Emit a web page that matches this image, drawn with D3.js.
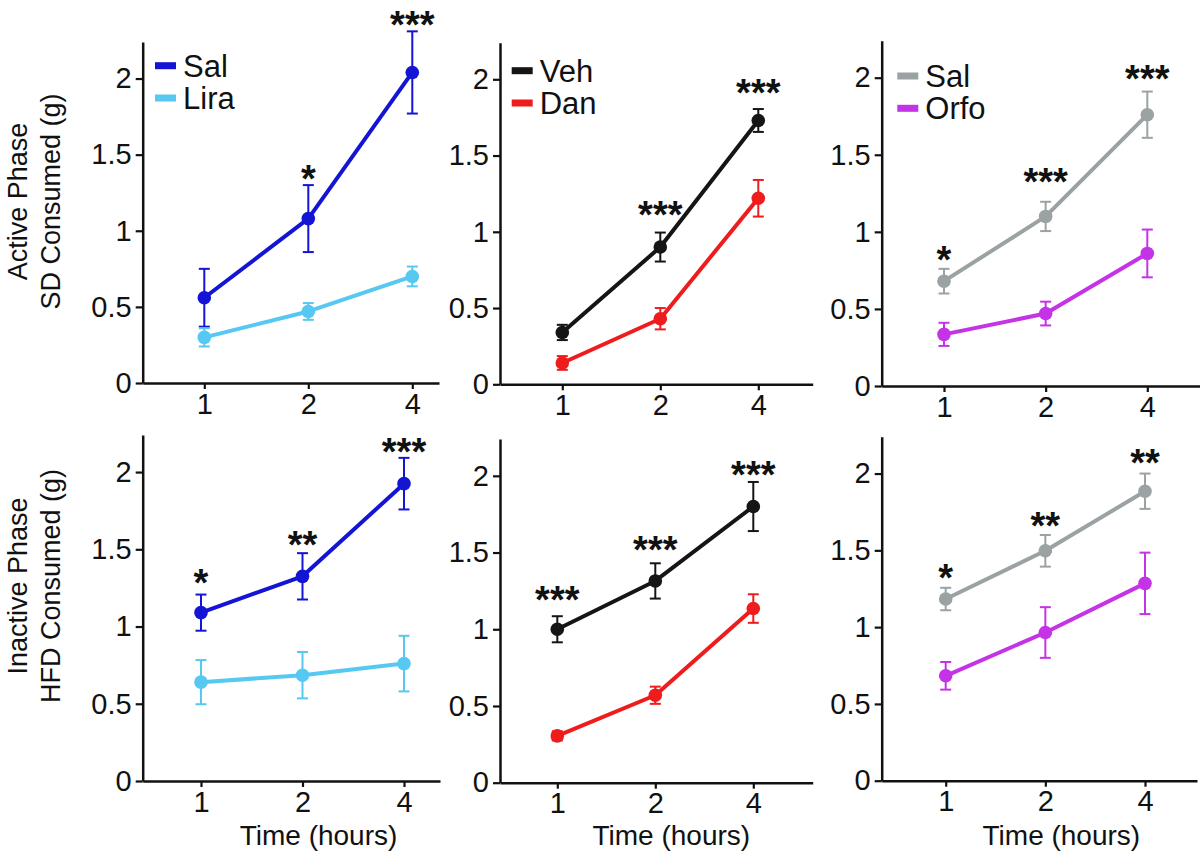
<!DOCTYPE html>
<html><head><meta charset="utf-8">
<script src="https://cdn.jsdelivr.net/npm/d3@7"></script>
<style>body{margin:0;background:#fff}svg{display:block}text{font-family:"Liberation Sans",Arial,sans-serif}</style>
</head><body>
<svg id="c" width="1200" height="857"></svg>
<script>
// ---------- data ----------
const timeLabels = ["1", "2", "4"];
const yTicks = [0, 0.5, 1, 1.5, 2];
const yMax = 2.24;

// Active phase, SD consumed (g)
const actSalL_mean = [0.56, 1.08, 2.04];
const actSalL_sem  = [0.19, 0.22, 0.27];
const actLira_mean = [0.30, 0.47, 0.70];
const actLira_sem  = [0.06, 0.055, 0.065];
const actVeh_mean  = [0.34, 0.90, 1.73];
const actVeh_sem   = [0.05, 0.095, 0.075];
const actDan_mean  = [0.14, 0.43, 1.22];
const actDan_sem   = [0.045, 0.07, 0.12];
const actSalO_mean = [0.68, 1.10, 1.76];
const actSalO_sem  = [0.08, 0.095, 0.15];
const actOrfo_mean = [0.335, 0.47, 0.86];
const actOrfo_sem  = [0.075, 0.077, 0.155];

// Inactive phase, HFD consumed (g)
const inaSalL_mean = [1.09, 1.325, 1.925];
const inaSalL_sem  = [0.117, 0.15, 0.167];
const inaLira_mean = [0.64, 0.685, 0.76];
const inaLira_sem  = [0.143, 0.15, 0.18];
const inaVeh_mean  = [1.00, 1.315, 1.80];
const inaVeh_sem   = [0.085, 0.115, 0.16];
const inaDan_mean  = [0.305, 0.57, 1.135];
const inaDan_sem   = [0.03, 0.056, 0.093];
const inaSalO_mean = [1.183, 1.497, 1.885];
const inaSalO_sem  = [0.073, 0.103, 0.115];
const inaOrfo_mean = [0.683, 0.965, 1.285];
const inaOrfo_sem  = [0.09, 0.165, 0.2];

// significance marks and their heights (data units)
const actLiraSig  = ["", "*", "***"];      const actLiraSigY = [null, 1.39, 2.405];
const actDanSig   = ["", "***", "***"];    const actDanSigY  = [null, 1.162, 1.96];
const actOrfoSig  = ["*", "***", "***"];   const actOrfoSigY = [0.868, 1.375, 2.043];
const inaLiraSig  = ["*", "**", "***"];    const inaLiraSigY = [1.336, 1.58, 2.179];
const inaDanSig   = ["***", "***", "***"]; const inaDanSigY  = [1.242, 1.57, 2.055];
const inaOrfoSig  = ["*", "**", "**"];     const inaOrfoSigY = [1.371, 1.711, 2.119];

const names = {salL: "Sal", lira: "Lira", veh: "Veh", dan: "Dan", salO: "Sal", orfo: "Orfo"};
const colors = {blue: "#1414d4", light: "#56c8f2", black: "#151515", red: "#ee1c1c", gray: "#9ba2a3", magenta: "#c433e6"};

// ---------- layout ----------
const panels = [
  {left:142.7,right:439,  top:42,   bottom:383,   x1:204.3,x4:412.3, leg:[155,65.7],
   series:[[names.salL,colors.blue,actSalL_mean,actSalL_sem],[names.lira,colors.light,actLira_mean,actLira_sem]], sig:actLiraSig, sigY:actLiraSigY, legend:true},
  {left:500,  right:812.7,top:42.7, bottom:384.3, x1:562.3,x4:758.3, leg:[511.7,70.7],
   series:[[names.veh,colors.black,actVeh_mean,actVeh_sem],[names.dan,colors.red,actDan_mean,actDan_sem]], sig:actDanSig, sigY:actDanSigY, legend:true},
  {left:881.7,right:1200, top:40.7, bottom:386,   x1:944,  x4:1147.3, leg:[897.3,76],
   series:[[names.salO,colors.gray,actSalO_mean,actSalO_sem],[names.orfo,colors.magenta,actOrfo_mean,actOrfo_sem]], sig:actOrfoSig, sigY:actOrfoSigY, legend:true},
  {left:142.7,right:440,  top:435,  bottom:781,   x1:201,  x4:404,
   series:[[names.salL,colors.blue,inaSalL_mean,inaSalL_sem],[names.lira,colors.light,inaLira_mean,inaLira_sem]], sig:inaLiraSig, sigY:inaLiraSigY, xtitle:true},
  {left:500,  right:812.7,top:439,  bottom:782.7, x1:557.3,x4:753.3,
   series:[[names.veh,colors.black,inaVeh_mean,inaVeh_sem],[names.dan,colors.red,inaDan_mean,inaDan_sem]], sig:inaDanSig, sigY:inaDanSigY, xtitle:true},
  {left:881.7,right:1197, top:436.7,bottom:780.7, x1:945.7,x4:1145,
   series:[[names.salO,colors.gray,inaSalO_mean,inaSalO_sem],[names.orfo,colors.magenta,inaOrfo_mean,inaOrfo_sem]], sig:inaOrfoSig, sigY:inaOrfoSigY, xtitle:true}
];

const svg = d3.select("#c");
const idx = [0, 1, 2];

panels.forEach(p => {
  const g = svg.append("g");
  const xs = d3.scaleLinear().domain([0, 2]).range([p.x1, p.x4]);
  const xAxisScale = d3.scaleLinear().domain([xs.invert(p.left), xs.invert(p.right)]).range([p.left, p.right]);
  const ys = d3.scaleLinear().domain([0, yMax]).range([p.bottom, p.top]);

  const xa = g.append("g").attr("transform", `translate(0,${p.bottom})`)
    .call(d3.axisBottom(xAxisScale).tickValues(idx).tickFormat(i => timeLabels[i]).tickSize(6).tickSizeOuter(0).tickPadding(4));
  const ya = g.append("g").attr("transform", `translate(${p.left},0)`)
    .call(d3.axisLeft(ys).tickValues(yTicks).tickFormat(d3.format("")).tickSize(7).tickSizeOuter(0).tickPadding(4));
  [xa, ya].forEach(a => {
    a.select(".domain").attr("stroke", "#111").attr("stroke-width", 2.5);
    a.selectAll(".tick line").attr("stroke", "#111").attr("stroke-width", 2.2);
    a.selectAll(".tick text").attr("fill", "#111").style("font-size", "29px");
  });

  // series
  p.series.forEach(([name, col, mean, sem]) => {
    const line = d3.line().x((d, i) => xs(i)).y(d => ys(d));
    g.append("path").datum(mean).attr("d", line).attr("fill", "none")
      .attr("stroke", col).attr("stroke-width", 4).attr("stroke-linejoin", "round");
    const eb = g.append("g").attr("stroke", col).attr("stroke-width", 2);
    mean.forEach((m, i) => {
      const x = xs(i), y1 = ys(m + sem[i]), y0 = ys(m - sem[i]);
      eb.append("line").attr("x1", x).attr("x2", x).attr("y1", y1).attr("y2", y0);
      eb.append("line").attr("x1", x - 5.5).attr("x2", x + 5.5).attr("y1", y1).attr("y2", y1);
      eb.append("line").attr("x1", x - 5.5).attr("x2", x + 5.5).attr("y1", y0).attr("y2", y0);
    });
    g.selectAll(null).data(mean).enter().append("circle")
      .attr("cx", (d, i) => xs(i)).attr("cy", d => ys(d)).attr("r", 6.8).attr("fill", col);
  });

  // significance
  p.sig.forEach((s, i) => {
    if (!s) return;
    g.append("text").attr("x", xs(i)).attr("y", ys(p.sigY[i]) + 21)
      .attr("text-anchor", "middle").style("font-size", "38px").style("font-weight", "bold")
      .attr("fill", "#111").text(s);
  });

  // legend
  if (p.legend) {
    p.series.forEach(([name, col], k) => {
      const ly = p.leg[1] + k * 32.3;
      g.append("rect").attr("x", p.leg[0]).attr("y", ly - 3.5).attr("width", 21).attr("height", 7).attr("fill", col);
      g.append("text").attr("x", p.leg[0] + 28).attr("y", ly + 11).style("font-size", "31px").attr("fill", "#111").text(name);
    });
  }

  if (p.xtitle) {
    g.append("text").attr("x", (p.x1 + p.x4) / 2 + 16).attr("y", 845).attr("text-anchor", "middle")
      .style("font-size", "28px").attr("fill", "#111").text("Time (hours)");
  }
});

// y axis titles
const yTitles = [["Active Phase", "SD Consumed (g)", 201.5], ["Inactive Phase", "HFD Consumed (g)", 586]];
yTitles.forEach(([l1, l2, cy]) => {
  svg.append("text").attr("transform", `translate(26.5,${cy}) rotate(-90)`).attr("text-anchor", "middle")
    .style("font-size", "27px").attr("fill", "#111").text(l1);
  svg.append("text").attr("transform", `translate(59.5,${cy}) rotate(-90)`).attr("text-anchor", "middle")
    .style("font-size", "27px").attr("fill", "#111").text(l2);
});
</script>
</body></html>
